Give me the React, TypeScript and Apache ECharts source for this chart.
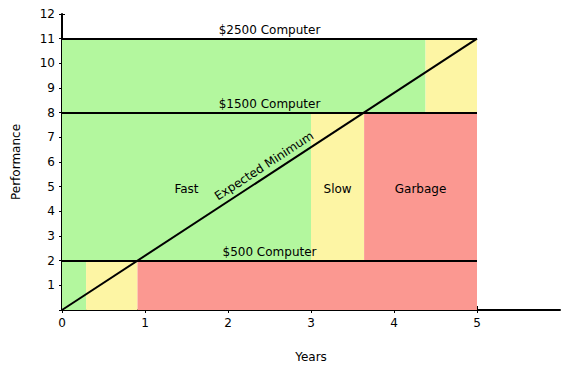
import React, { useEffect, useRef } from "react";
import * as echarts from "echarts";

const computerNames = ["$500 Computer", "$1500 Computer", "$2500 Computer"];
const performanceLevels = [2, 8, 11];
const bandBottoms = [0, 2, 8];
const fastEnds = [0.29, 3.0, 4.38];
const garbageStarts = [0.91, 3.64, 5.0];
const lifeEnd = 5;
const expectedMinimum: [number, number][] = [[0, 0], [5, 11]];
const zoneNames = ["Fast", "Slow", "Garbage"];
const xTickValues = [0, 1, 2, 3, 4, 5];
const yTickValues = [0, 1, 2, 3, 4, 5, 6, 7, 8, 9, 10, 11, 12];
const yLabelValues = [1, 2, 3, 4, 5, 6, 7, 8, 9, 10, 11, 12];

const GREEN = "#b3f79e";
const YELLOW = "#fdf5a4";
const RED = "#fb9891";
const FONT = "DejaVu Sans";

export default function App() {
  const ref = useRef<HTMLDivElement>(null);
  useEffect(() => {
    if (!ref.current) return;
    const chart = echarts.init(ref.current, undefined, { renderer: "svg" });

    const areas: any[] = [];
    performanceLevels.forEach((top, i) => {
      const bottom = bandBottoms[i];
      const isMiddle = i === 1;
      const lbl = (name: string) =>
        isMiddle
          ? { show: true, position: "inside", offset: [0, 2], formatter: name, color: "#000", fontFamily: FONT, fontSize: 12 }
          : { show: false };
      areas.push([
        { xAxis: 0, yAxis: bottom, itemStyle: { color: GREEN }, label: lbl(zoneNames[0]) },
        { xAxis: fastEnds[i], yAxis: top },
      ]);
      if (garbageStarts[i] > fastEnds[i])
        areas.push([
          { xAxis: fastEnds[i], yAxis: bottom, itemStyle: { color: YELLOW }, label: lbl(zoneNames[1]) },
          { xAxis: garbageStarts[i], yAxis: top },
        ]);
      if (lifeEnd > garbageStarts[i])
        areas.push([
          { xAxis: garbageStarts[i], yAxis: bottom, itemStyle: { color: RED }, label: lbl(zoneNames[2]) },
          { xAxis: lifeEnd, yAxis: top },
        ]);
    });

    const lines: any[] = performanceLevels.map((lvl, i) => [
      {
        coord: [0, lvl],
        label: {
          show: true,
          position: "insideMiddleTop",
          formatter: computerNames[i],
          color: "#000",
          fontFamily: FONT,
          fontSize: 12,
          distance: 3,
        },
      },
      { coord: [lifeEnd, lvl] },
    ]);
    lines.push([
      {
        coord: expectedMinimum[0],
        label: {
          show: true,
          position: "insideMiddleTop",
          formatter: "Expected Minimum",
          color: "#000",
          fontFamily: FONT,
          fontSize: 12,
          distance: 4,
        },
      },
      { coord: expectedMinimum[1] },
    ]);

    const axisText = { color: "#000", fontFamily: FONT, fontSize: 12 };

    chart.setOption({
      animation: false,
      textStyle: { fontFamily: FONT },
      grid: { left: 62, right: 6, top: 14, bottom: 61 },
      xAxis: [
        {
          type: "value",
          min: 0,
          max: 6,
          interval: 1,
          name: "Years",
          nameLocation: "middle",
          nameGap: 41,
          nameTextStyle: axisText,
          splitLine: { show: false },
          axisLine: { show: true, lineStyle: { color: "#000", width: 2 } },
          axisTick: { show: true, length: 3, customValues: xTickValues, lineStyle: { color: "#000" } },
          axisLabel: { ...axisText, margin: 7, customValues: xTickValues },
        },
        {
          type: "value",
          min: 0,
          max: 6,
          interval: 1,
          position: "bottom",
          splitLine: { show: false },
          axisLine: { show: false },
          axisTick: { show: true, inside: true, length: 4, customValues: xTickValues, lineStyle: { color: "#000" } },
          axisLabel: { show: false },
        },
      ],
      yAxis: [
        {
          type: "value",
          min: 0,
          max: 12,
          interval: 1,
          name: "Performance",
          nameLocation: "middle",
          nameGap: 40,
          nameTextStyle: axisText,
          splitLine: { show: false },
          axisLine: { show: true, lineStyle: { color: "#000", width: 2 } },
          axisTick: { show: true, length: 3, customValues: yTickValues, lineStyle: { color: "#000" } },
          axisLabel: { ...axisText, margin: 7, customValues: yLabelValues },
        },
        {
          type: "value",
          min: 0,
          max: 12,
          interval: 1,
          position: "left",
          splitLine: { show: false },
          axisLine: { show: false },
          axisTick: { show: true, inside: true, length: 3, customValues: yTickValues, lineStyle: { color: "#000" } },
          axisLabel: { show: false },
        },
      ],
      series: [
        {
          type: "line",
          data: [],
          silent: true,
          markArea: { silent: true, data: areas },
          markLine: {
            silent: true,
            symbol: ["none", "none"],
            lineStyle: { color: "#000", width: 2, type: "solid" },
            data: lines,
          },
        },
      ],
    });
    return () => chart.dispose();
  }, []);
  return <div ref={ref} style={{ width: 566, height: 371, position: "absolute", left: 0, top: 0 }} />;
}
